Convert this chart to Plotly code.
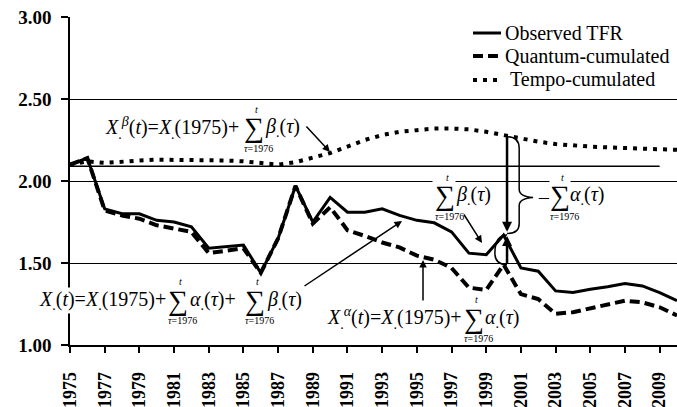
import plotly.graph_objects as go

years = list(range(1975, 2011))
observed = [2.10, 2.14, 1.83, 1.80, 1.80, 1.76, 1.75, 1.72, 1.59, 1.60,
            1.61, 1.44, 1.65, 1.97, 1.75, 1.90, 1.81, 1.81, 1.83, 1.79,
            1.76, 1.745, 1.69, 1.56, 1.55, 1.67, 1.47, 1.45, 1.33, 1.32,
            1.34, 1.355, 1.375, 1.36, 1.32, 1.27]
quantum = [2.10, 2.14, 1.82, 1.79, 1.77, 1.73, 1.71, 1.69, 1.56, 1.575,
           1.59, 1.44, 1.65, 1.97, 1.74, 1.84, 1.70, 1.665, 1.625, 1.595,
           1.545, 1.52, 1.47, 1.35, 1.335, 1.49, 1.31, 1.28, 1.19, 1.20,
           1.225, 1.245, 1.27, 1.26, 1.23, 1.18]
tempo = [2.10, 2.12, 2.11, 2.12, 2.125, 2.13, 2.13, 2.13, 2.13, 2.125,
         2.12, 2.11, 2.10, 2.115, 2.14, 2.17, 2.21, 2.25, 2.28, 2.30,
         2.31, 2.32, 2.32, 2.315, 2.30, 2.28, 2.255, 2.24, 2.225, 2.215,
         2.21, 2.205, 2.20, 2.195, 2.19, 2.19]
series_names = ["Observed TFR", "Quantum-cumulated", "Tempo-cumulated"]
x_ticks = list(range(1975, 2010, 2))
y_ticks = [1.00, 1.50, 2.00, 2.50, 3.00]
base_level = 2.09

SERIF = "Liberation Serif, DejaVu Serif, serif"
L, T, W, H = 70, 17, 607, 328

styles = [dict(color="black", width=3),
          dict(color="black", width=4, dash="10px,5px"),
          dict(color="black", width=4, dash="4px,6px")]

fig = go.Figure()
for name, ys, st in zip(series_names, [observed, quantum, tempo], styles):
    fig.add_trace(go.Scatter(x=years, y=ys, mode="lines", name=name, line=st,
                             showlegend=False))

fig.add_shape(type="line", x0=years[0], x1=2009, y0=base_level, y1=base_level,
              line=dict(color="black", width=1.5), layer="below")


def px(x, y):
    return (x - L) / W, (T + H - y) / H


anns = []


def txt(s, x, y, size=20, xanchor="left", bg=None):
    xx, yy = px(x, y)
    a = dict(text=s, x=xx, y=yy, xref="paper", yref="paper", showarrow=False,
             xanchor=xanchor, yanchor="middle", font=dict(family=SERIF, size=size, color="black"))
    if bg:
        a["bgcolor"] = bg
        a["borderpad"] = 0
    anns.append(a)


# manual legend (compact row spacing as in the reference)
for (name, st, ly, tx) in zip(series_names, styles, [33, 56, 80], [503, 503, 508]):
    x0, y0 = px(473, ly)
    x1, _ = px(501, ly)
    fig.add_shape(type="line", xref="paper", yref="paper", x0=x0, x1=x1, y0=y0, y1=y0,
                  line=st)
    txt(name, tx, ly, size=20)


def sigma(cx, cy, bg=None):
    txt("∑", cx, cy, size=28, xanchor="center", bg=bg)
    txt("<i>t</i>", cx + 2, cy - 19, size=10, xanchor="center")
    txt("<i>τ</i>=1976", cx + 4, cy + 20, size=10, xanchor="center")


Xd = "<i>X</i><sub>.</sub>"
# formula 1 (tempo)
txt(Xd + "<sup><i>β</i></sup>(<i>t</i>)=" + Xd + "(1975)+", 103, 128)
sigma(254, 128)
txt("<i>β</i><sub>.</sub>(<i>τ</i>)", 263, 128)
# formula 2 (observed)
txt(Xd + "(<i>t</i>)=" + Xd + "(1975)+", 38, 300, bg="white")
sigma(178, 300)
txt("<i>α</i><sub>.</sub>(<i>τ</i>)+", 188, 300)
sigma(255, 300)
txt("<i>β</i><sub>.</sub>(<i>τ</i>)", 265, 300)
# formula 3 (quantum)
txt(Xd + "<sup><i>α</i></sup>(<i>t</i>)=" + Xd + "(1975)+", 325, 318)
sigma(474, 318)
txt("<i>α</i><sub>.</sub>(<i>τ</i>)", 483, 318)
# sum beta label
txt("&nbsp;", 432, 182, size=20, bg="white")
sigma(445, 196, bg="white")
txt("<i>β</i><sub>.</sub>(<i>τ</i>)", 455, 196, bg="white")
# minus sum alpha label
txt("–", 537, 197, size=20, bg="white")
sigma(560, 196, bg="white")
txt("<i>α</i><sub>.</sub>(<i>τ</i>)", 569, 196, bg="white")


def arrow(hx, hy, tx, ty, width=1.5, head=2, size=1.0):
    anns.append(dict(x=hx, y=hy, ax=tx, ay=ty, xref="x", yref="y", axref="x", ayref="y",
                     text="", showarrow=True, arrowhead=head, arrowsize=size,
                     arrowwidth=width, arrowcolor="black"))


def yr(x):
    return 1975 + (x - L) / W * 35


def val(y):
    return 3 - (y - T) / H * 2


arrow(yr(330), val(152), yr(305), val(125))
arrow(yr(402), val(221), yr(303), val(287))
arrow(yr(423), val(260), yr(423), val(302))
arrow(yr(482), val(243), yr(463), val(213))
arrow(2000.2, 1.69, 2000.2, 2.28, width=2.5, size=0.8)
arrow(2000.2, 1.665, 2000.2, 1.49, width=2.5, size=0.8)

# braces
bx0, bx1, bxt = 2000.2, 2000.9, 2001.7
fig.add_shape(type="path", xref="x", yref="y",
              path=(f"M {bx0},2.27 Q {bx1},2.27 {bx1},2.20 L {bx1},1.95 "
                    f"Q {bx1},1.905 {bxt},1.90 Q {bx1},1.895 {bx1},1.85 L {bx1},1.74 "
                    f"Q {bx1},1.68 {bx0},1.68"),
              line=dict(color="black", width=1.5))
fig.add_shape(type="path", xref="x", yref="y",
              path=(f"M 2000.2,1.49 Q 1999.5,1.49 1999.5,1.56 "
                    f"Q 1999.5,1.67 2000.2,1.67"),
              line=dict(color="black", width=1.5))

fig.update_layout(
    width=677, height=407,
    margin=dict(l=L, r=0, t=T, b=62, autoexpand=False),
    plot_bgcolor="white", paper_bgcolor="white",
    annotations=anns, showlegend=False,
    font=dict(family=SERIF, color="black"),
    xaxis=dict(range=[1975, 2010], tickvals=x_ticks, ticktext=[str(v) for v in x_ticks],
               tickangle=-90, ticks="outside", ticklen=6, tickwidth=1.5, tickcolor="black",
               showline=True, linecolor="black", linewidth=1.5, showgrid=False, zeroline=False,
               automargin=False, ticklabelstandoff=12,
               tickfont=dict(family=SERIF, size=18, weight="bold")),
    yaxis=dict(range=[1, 3], tickvals=y_ticks, ticktext=[f"{v:.2f}" for v in y_ticks],
               ticks="outside", ticklen=7, tickwidth=1.5, tickcolor="black",
               showline=True, linecolor="black", linewidth=1.5,
               showgrid=True, gridcolor="black", gridwidth=1.2, zeroline=False,
               automargin=False, ticklabelstandoff=6,
               tickfont=dict(family=SERIF, size=19, weight="bold")),
)

fig.write_html("out.html", config={"displayModeBar": False},
               post_script="document.body.style.margin='0';")
